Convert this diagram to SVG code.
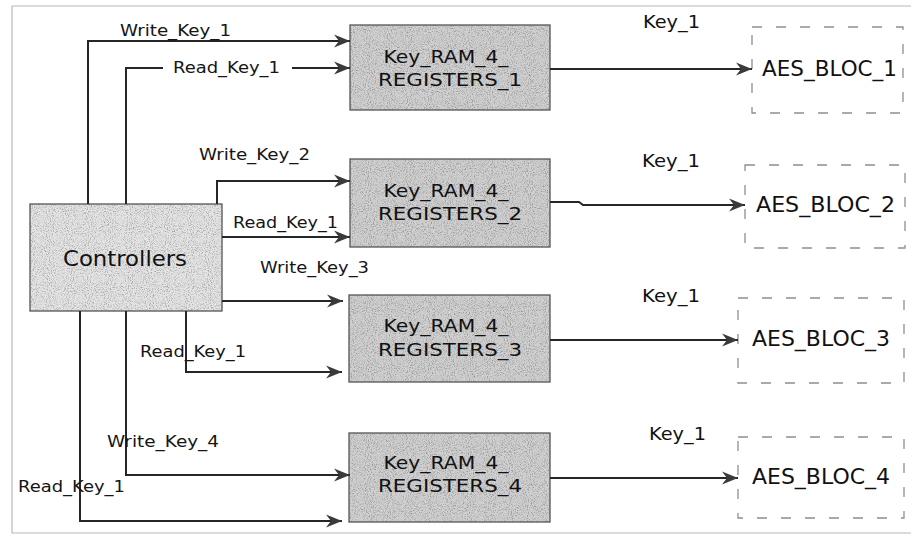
<svg xmlns="http://www.w3.org/2000/svg" width="911" height="535" viewBox="0 0 911 535">
  <style>
    .wire { fill: none; stroke: #262626; stroke-width: 2; }
    .sig { font-family: "DejaVu Sans", "Liberation Sans", sans-serif; font-size: 16px; fill: #151515; }
    .key { font-family: "DejaVu Sans", "Liberation Sans", sans-serif; font-size: 18px; fill: #111; }
    .blk { font-family: "DejaVu Sans", "Liberation Sans", sans-serif; font-size: 18px; fill: #111; text-anchor: middle; }
    .aes { font-family: "DejaVu Sans", "Liberation Sans", sans-serif; font-size: 21px; fill: #111; }
    .ram { fill: #d0d0d0; }
    .ctl { fill: #e4e4e4; }
    .edge { fill: none; stroke: #555; stroke-width: 1.3; }
    .dash { fill: none; stroke: #8f8f8f; stroke-width: 1.3; stroke-dasharray: 10 14; }
    .frame { fill: none; stroke: #b8b8b8; stroke-width: 1.2; }
  </style>
  <defs>
    <marker id="arrow" markerUnits="userSpaceOnUse" markerWidth="18" markerHeight="14" refX="16" refY="7" orient="auto">
      <path d="M0,0.5 L16,7 L0,13.5 L5,7 z" fill="#3a3a3a"/>
    </marker>
    <!-- speckled print texture for the block fills -->
    <filter id="grain" x="0" y="0" width="1" height="1">
      <feTurbulence type="fractalNoise" baseFrequency="0.95" numOctaves="2" seed="4" result="noise"/>
      <feColorMatrix in="noise" type="matrix" values="0 0 0 0 0  0 0 0 0 0  0 0 0 0 0  3 0 0 0 -1.35" result="dots"/>
      <feComposite in="dots" in2="SourceGraphic" operator="in" result="spots"/>
      <feComponentTransfer in="spots" result="soft"><feFuncA type="linear" slope="0.5"/></feComponentTransfer>
      <feMerge><feMergeNode in="SourceGraphic"/><feMergeNode in="soft"/></feMerge>
    </filter>
  </defs>

  <rect width="911" height="535" fill="#ffffff"/>
  <path class="frame" d="M911,6 H12 V533 H911"/>

  <g id="controllers">
    <rect class="ctl" x="30" y="204" width="192" height="107" filter="url(#grain)"/>
    <rect class="edge" x="30" y="204" width="192" height="107"/>
    <text class="aes" x="63" y="266" textLength="124" lengthAdjust="spacingAndGlyphs">Controllers</text>
  </g>

  <g id="key-ram-1">
    <rect class="ram" x="350" y="25" width="200" height="85" filter="url(#grain)"/>
    <rect class="edge" x="350" y="25" width="200" height="85"/>
    <text class="blk" x="446" y="63" textLength="125" lengthAdjust="spacingAndGlyphs">Key_RAM_4_</text>
    <text class="blk" x="450" y="86" textLength="144" lengthAdjust="spacingAndGlyphs">REGISTERS_1</text>
  </g>
  <g id="key-ram-2">
    <rect class="ram" x="350" y="159" width="200" height="88" filter="url(#grain)"/>
    <rect class="edge" x="350" y="159" width="200" height="88"/>
    <text class="blk" x="446" y="197" textLength="125" lengthAdjust="spacingAndGlyphs">Key_RAM_4_</text>
    <text class="blk" x="450" y="220" textLength="144" lengthAdjust="spacingAndGlyphs">REGISTERS_2</text>
  </g>
  <g id="key-ram-3">
    <rect class="ram" x="349" y="295" width="201" height="87" filter="url(#grain)"/>
    <rect class="edge" x="349" y="295" width="201" height="87"/>
    <text class="blk" x="446" y="332" textLength="125" lengthAdjust="spacingAndGlyphs">Key_RAM_4_</text>
    <text class="blk" x="450" y="356" textLength="144" lengthAdjust="spacingAndGlyphs">REGISTERS_3</text>
  </g>
  <g id="key-ram-4">
    <rect class="ram" x="349" y="433" width="201" height="89" filter="url(#grain)"/>
    <rect class="edge" x="349" y="433" width="201" height="89"/>
    <text class="blk" x="446" y="469" textLength="125" lengthAdjust="spacingAndGlyphs">Key_RAM_4_</text>
    <text class="blk" x="450" y="492" textLength="144" lengthAdjust="spacingAndGlyphs">REGISTERS_4</text>
  </g>

  <g id="aes-bloc-1">
    <rect class="dash" x="752" y="27" width="151" height="86"/>
    <text class="aes" x="762" y="76" textLength="135" lengthAdjust="spacingAndGlyphs">AES_BLOC_1</text>
  </g>
  <g id="aes-bloc-2">
    <rect class="dash" x="745" y="165" width="160" height="83"/>
    <text class="aes" x="756" y="212" textLength="139" lengthAdjust="spacingAndGlyphs">AES_BLOC_2</text>
  </g>
  <g id="aes-bloc-3">
    <rect class="dash" x="738" y="298" width="166" height="85"/>
    <text class="aes" x="752" y="346" textLength="138" lengthAdjust="spacingAndGlyphs">AES_BLOC_3</text>
  </g>
  <g id="aes-bloc-4">
    <rect class="dash" x="738" y="437" width="166" height="81"/>
    <text class="aes" x="752" y="484" textLength="138" lengthAdjust="spacingAndGlyphs">AES_BLOC_4</text>
  </g>

  <g id="connectors">
    <!-- controller to key registers -->
    <path class="wire" d="M88,204 V41 H350" marker-end="url(#arrow)"/>
    <path class="wire" d="M126,204 V68 H163"/>
    <path class="wire" d="M292,68 H350" marker-end="url(#arrow)"/>
    <path class="wire" d="M217,204 V181 H350" marker-end="url(#arrow)"/>
    <path class="wire" d="M222,237 H350" marker-end="url(#arrow)"/>
    <path class="wire" d="M222,301 H343" marker-end="url(#arrow)"/>
    <path class="wire" d="M186,311 V372 H342" marker-end="url(#arrow)"/>
    <path class="wire" d="M126,311 V475 H350" marker-end="url(#arrow)"/>
    <path class="wire" d="M80,311 V521 H342" marker-end="url(#arrow)"/>
    <!-- key registers to AES blocks -->
    <path class="wire" d="M550,69 H752" marker-end="url(#arrow)"/>
    <path class="wire" d="M550,202 H579 L583,205 H745" marker-end="url(#arrow)"/>
    <path class="wire" d="M550,340 H738" marker-end="url(#arrow)"/>
    <path class="wire" d="M550,478 H738" marker-end="url(#arrow)"/>

    <text class="sig" x="120" y="36" textLength="111" lengthAdjust="spacingAndGlyphs">Write_Key_1</text>
    <text class="sig" x="173" y="73" textLength="107" lengthAdjust="spacingAndGlyphs">Read_Key_1</text>
    <text class="sig" x="199" y="160" textLength="111" lengthAdjust="spacingAndGlyphs">Write_Key_2</text>
    <text class="sig" x="233" y="228" textLength="105" lengthAdjust="spacingAndGlyphs">Read_Key_1</text>
    <text class="sig" x="260" y="273" textLength="109" lengthAdjust="spacingAndGlyphs">Write_Key_3</text>
    <text class="sig" x="140" y="357" textLength="106" lengthAdjust="spacingAndGlyphs">Read_Key_1</text>
    <text class="sig" x="107" y="447" textLength="112" lengthAdjust="spacingAndGlyphs">Write_Key_4</text>
    <text class="sig" x="18" y="492" textLength="107" lengthAdjust="spacingAndGlyphs">Read_Key_1</text>

    <text class="key" x="643" y="28" textLength="57" lengthAdjust="spacingAndGlyphs">Key_1</text>
    <text class="key" x="642" y="167" textLength="58" lengthAdjust="spacingAndGlyphs">Key_1</text>
    <text class="key" x="642" y="302" textLength="58" lengthAdjust="spacingAndGlyphs">Key_1</text>
    <text class="key" x="649" y="440" textLength="57" lengthAdjust="spacingAndGlyphs">Key_1</text>
  </g>
</svg>
